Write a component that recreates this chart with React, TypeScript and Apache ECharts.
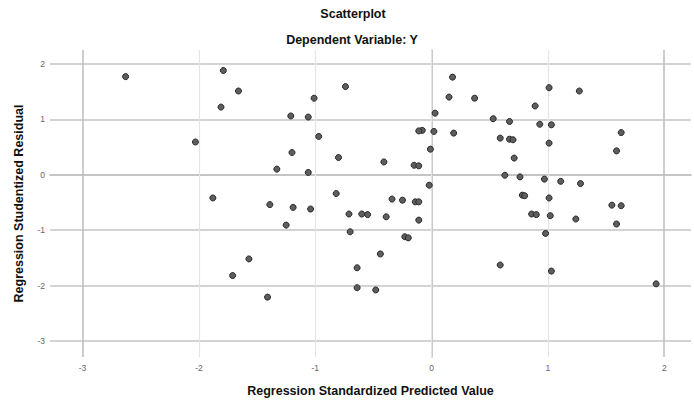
import React, { useEffect, useRef } from "react";
import * as echarts from "echarts";

const titleText = "Scatterplot";
const subtitleText = "Dependent Variable: Y";
const xAxisName = "Regression Standardized Predicted Value";
const yAxisName = "Regression Studentized Residual";

const xTicks = [-3, -2, -1, 0, 1, 2];
const yTicks = [2, 1, 0, -1, -2, -3];

const predicted = [
  -2.63, -1.79, -1.66, -1.81, -2.03, -1.88, -1.21, -1.06, -1.01, -0.74, -0.97, -1.2, -0.8, -1.33, -1.06, -0.82, -1.39, -1.19, -1.04, -1.25, -1.57, -1.71, -1.41,
  0.18, 0.15, 0.37, 0.89, 0.03, 0.53, 0.67, -0.08, -0.11, 0.02, 0.19, 0.59, 0.67, 0.7, -0.01, 0.71, -0.41, -0.15, -0.11, 0.63, 0.76,
  1.01, 1.27, 0.93, 1.03, 1.63, 1.01, 1.59, 0.97, 1.11, 1.28, -0.02, -0.34, -0.25, -0.14, -0.11, 0.78, 0.8, 1.01, 1.55, 1.63,
  -0.71, -0.6, -0.55, -0.39, -0.11, -0.7, -0.23, -0.2, -0.44, -0.64, -0.64, -0.48,
  0.86, 0.9, 1.02, 1.24, 0.98, 1.59, 0.59, 1.03, 1.93,
];

const residual = [
  1.77, 1.88, 1.51, 1.22, 0.59, -0.42, 1.06, 1.04, 1.38, 1.59, 0.69, 0.4, 0.31, 0.1, 0.04, -0.34, -0.54, -0.59, -0.62, -0.91, -1.52, -1.82, -2.21,
  1.76, 1.4, 1.38, 1.24, 1.11, 1.01, 0.96, 0.8, 0.79, 0.78, 0.75, 0.66, 0.64, 0.63, 0.46, 0.3, 0.23, 0.17, 0.16, -0.01, -0.04,
  1.57, 1.51, 0.91, 0.9, 0.76, 0.57, 0.43, -0.08, -0.12, -0.16, -0.19, -0.44, -0.46, -0.49, -0.49, -0.37, -0.38, -0.42, -0.55, -0.56,
  -0.71, -0.71, -0.72, -0.76, -0.82, -1.03, -1.12, -1.14, -1.43, -1.68, -2.04, -2.08,
  -0.71, -0.72, -0.74, -0.8, -1.06, -0.89, -1.63, -1.74, -1.97,
];

const FONT = "'Liberation Sans', Arial, sans-serif";

const intLabel = (v: number) =>
  Math.abs(v - Math.round(v)) < 1e-6 ? String(Math.round(v)) : "";

export default function App() {
  const ref = useRef<HTMLDivElement>(null);

  useEffect(() => {
    if (!ref.current) return;
    const chart = echarts.init(ref.current, null, { renderer: "svg" });
    const data = predicted.map((x, i) => [x, residual[i]]);
    const xMin = xTicks[0];
    const xMax = xTicks[xTicks.length - 1];
    const hLines = yTicks.map((v) => ({
      yAxis: v,
      lineStyle: { color: "#c4c4c4", width: 1.5, type: "solid" },
    }));
    const vLines = xTicks.map((v) => ({
      xAxis: v,
      lineStyle: {
        color: v === xMin || v === xMax ? "#bdbdbd" : "#e4e4e4",
        width: v === xMin || v === xMax ? 1.5 : 1.2,
        type: "solid",
      },
    }));

    chart.setOption({
      animation: false,
      backgroundColor: "#ffffff",
      textStyle: { fontFamily: FONT },
      grid: { left: 50, right: 0, top: 50, bottom: 42, containLabel: false },
      graphic: [
        {
          type: "text",
          x: 353,
          y: 14,
          style: {
            text: titleText,
            fontFamily: FONT,
            fontSize: 12.5,
            fontWeight: "bold",
            fill: "#111",
            textAlign: "center",
            textVerticalAlign: "middle",
          },
        },
        {
          type: "text",
          x: 352,
          y: 40,
          style: {
            text: subtitleText,
            fontFamily: FONT,
            fontSize: 12.5,
            fontWeight: "bold",
            fill: "#111",
            textAlign: "center",
            textVerticalAlign: "middle",
          },
        },
      ],
      xAxis: {
        type: "value",
        min: -3.28,
        max: 2.23,
        splitNumber: 5,
        name: xAxisName,
        nameLocation: "middle",
        nameGap: 27,
        nameTextStyle: {
          fontFamily: FONT,
          fontSize: 12.5,
          fontWeight: "bold",
          color: "#111",
        },
        axisLine: { show: true, lineStyle: { color: "#b5b5b5", width: 1.5 } },
        axisTick: { show: false },
        splitLine: { show: false },
        axisLabel: {
          formatter: intLabel,
          color: "#666",
          fontSize: 8.5,
          fontFamily: FONT,
          margin: 6,
          showMinLabel: true,
          showMaxLabel: true,
        },
      },
      yAxis: {
        type: "value",
        min: -3.29,
        max: 2.25,
        splitNumber: 5,
        name: yAxisName,
        nameLocation: "middle",
        nameGap: 25,
        nameTextStyle: {
          fontFamily: FONT,
          fontSize: 12.5,
          fontWeight: "bold",
          color: "#111",
        },
        axisLine: { show: true, lineStyle: { color: "#b5b5b5", width: 1.5 } },
        axisTick: { show: false },
        splitLine: { show: false },
        axisLabel: {
          formatter: intLabel,
          color: "#666",
          fontSize: 8.5,
          fontFamily: FONT,
          margin: 5,
        },
      },
      series: [
        {
          type: "scatter",
          data,
          symbol: "circle",
          symbolSize: 6,
          itemStyle: {
            color: "#5e5e5e",
            borderColor: "#262626",
            borderWidth: 1,
            opacity: 1,
          },
          z: 5,
          markLine: {
            silent: true,
            symbol: "none",
            label: { show: false },
            z: 1,
            data: [...hLines, ...vLines],
          },
        },
      ],
    });

    return () => chart.dispose();
  }, []);

  return (
    <div
      ref={ref}
      style={{
        position: "absolute",
        left: 0,
        top: 0,
        width: 694,
        height: 402,
        background: "#fff",
      }}
    />
  );
}
